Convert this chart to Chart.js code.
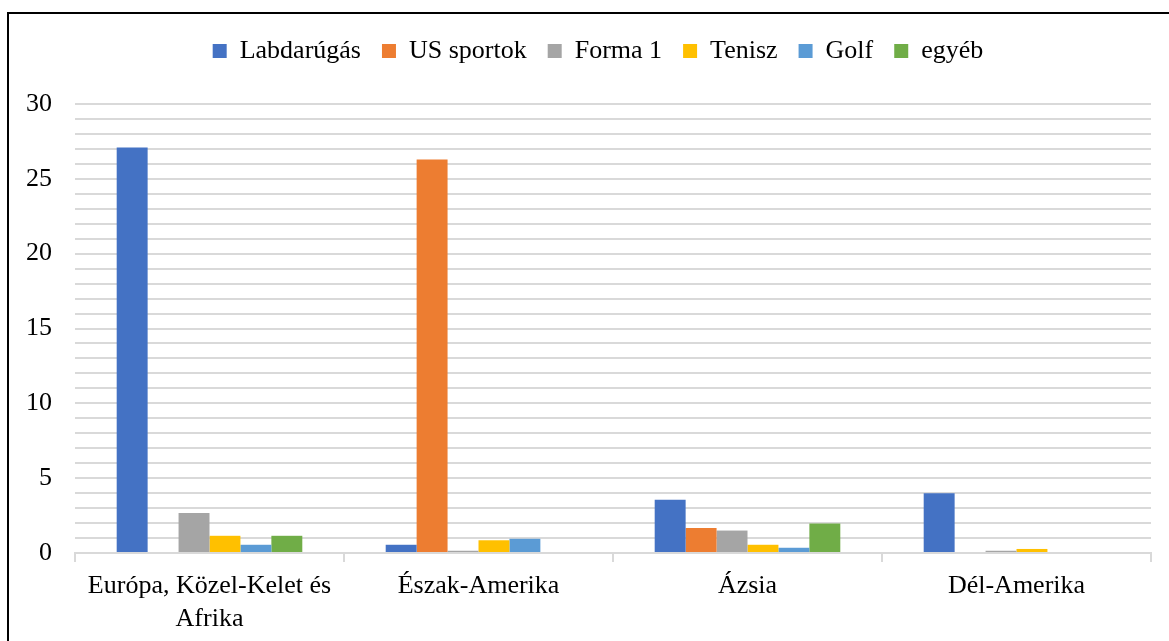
<!DOCTYPE html>
<html>
<head>
<meta charset="utf-8">
<script src="https://cdn.jsdelivr.net/npm/chart.js@4"></script>
<style>
  html, body { margin: 0; padding: 0; background: #fff; overflow: hidden; }
  #wrap { position: relative; width: 1169px; height: 641px; }
  #frame { position: absolute; left: 7px; top: 12px; width: 1180px; height: 660px; border: 2px solid #000; box-sizing: border-box; pointer-events: none; }
</style>
</head>
<body>
<div id="wrap">
  <canvas id="regionChart" width="1169" height="641"></canvas>
  <div id="frame"></div>
</div>
<script>
const regions = [['Európa, Közel-Kelet és', 'Afrika'], 'Észak-Amerika', 'Ázsia', 'Dél-Amerika'];
const football = [27.1, 0.55, 3.55, 4.0];
const usSports = [0, 26.3, 1.67, 0];
const formula1 = [2.67, 0.15, 1.5, 0.15];
const tennis = [1.15, 0.85, 0.55, 0.27];
const golf = [0.55, 0.95, 0.35, 0];
const other = [1.15, 0, 1.97, 0];

const serif = "'Liberation Serif', 'Times New Roman', serif";
const gridGray = '#d9d9d9';

// push the plot area down below the legend, nudge legend a bit right
const legendTweak = {
  id: 'legendTweak',
  beforeInit(chart) {
    const legend = chart.legend;
    const fit = legend.fit;
    legend.fit = function () {
      fit.call(legend);
      this.height += 30;
    };
    const draw = legend.draw;
    legend.draw = function () {
      chart.ctx.save();
      chart.ctx.translate(10, 0);
      draw.call(legend);
      chart.ctx.restore();
    };
  }
};

new Chart(document.getElementById('regionChart').getContext('2d'), {
  type: 'bar',
  data: {
    labels: regions,
    datasets: [
      { label: 'Labdarúgás', data: football, backgroundColor: '#4472C4' },
      { label: 'US sportok', data: usSports, backgroundColor: '#ED7D31' },
      { label: 'Forma 1', data: formula1, backgroundColor: '#A5A5A5' },
      { label: 'Tenisz', data: tennis, backgroundColor: '#FFC000' },
      { label: 'Golf', data: golf, backgroundColor: '#5B9BD5' },
      { label: 'egyéb', data: other, backgroundColor: '#70AD47' }
    ]
  },
  plugins: [legendTweak],
  options: {
    responsive: false,
    animation: false,
    devicePixelRatio: 1,
    layout: { padding: { left: 25, right: 18, top: 17, bottom: 0 } },
    datasets: { bar: { barPercentage: 1, categoryPercentage: 0.69 } },
    plugins: {
      tooltip: { enabled: false },
      legend: {
        position: 'top',
        labels: {
          boxWidth: 14,
          boxHeight: 14,
          padding: 21,
          color: '#000',
          font: { family: serif, size: 26 }
        }
      }
    },
    scales: {
      x: {
        grid: { drawOnChartArea: false, drawTicks: true, tickLength: 9, color: gridGray, lineWidth: 2, offset: true },
        border: { display: true, color: gridGray, width: 2 },
        ticks: { color: '#000', padding: 8, maxRotation: 0, autoSkip: false, font: { family: serif, size: 26, lineHeight: 1.25 } },
        afterFit: (s) => { s.height = 88; }
      },
      y: {
        min: 0,
        max: 30,
        grid: { color: gridGray, lineWidth: 2, drawTicks: false },
        border: { display: false },
        ticks: {
          stepSize: 1,
          autoSkip: false,
          maxTicksLimit: 40,
          padding: 23,
          color: '#000',
          font: { family: serif, size: 26 },
          callback: (v) => (v % 5 === 0 ? v : '')
        },
        afterFit: (s) => { s.width = 50; }
      }
    }
  }
});
</script>
</body>
</html>
